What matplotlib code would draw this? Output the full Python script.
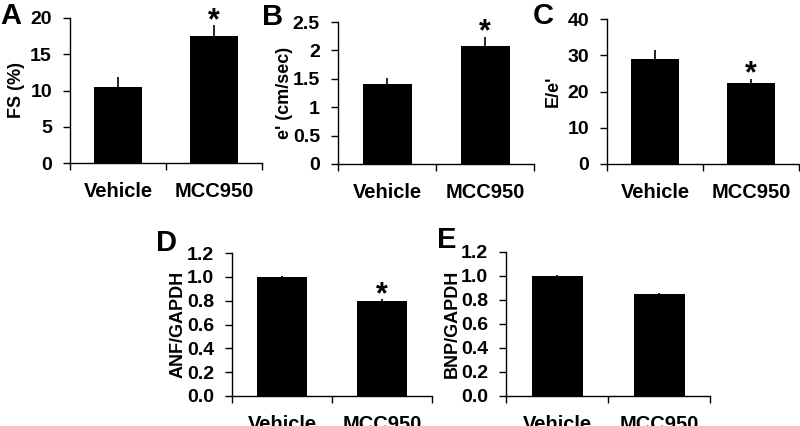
import matplotlib
matplotlib.use("Agg")
import matplotlib.pyplot as plt

plt.rcParams['font.family'] = ['Liberation Sans', 'DejaVu Sans']
plt.rcParams['font.weight'] = 'bold'

# data
groups = ["Vehicle", "MCC950"]

fs_mean = [10.5, 17.5]
fs_err = [1.4, 1.5]

e_mean = [1.40, 2.07]
e_err = [0.11, 0.17]

ee_mean = [29.0, 22.3]
ee_err = [2.4, 1.2]

anf_mean = [1.0, 0.80]
anf_err = [0.005, 0.01]

bnp_mean = [1.0, 0.85]
bnp_err = [0.005, 0.005]

# panel: letter, ylabel, mean, err, ylim top, ticks, tick labels, star, box (px), letter pos (px)
panels = [
    ("A", "FS (%)", fs_mean, fs_err, 20, [0, 5, 10, 15, 20],
     ["0", "5", "10", "15", "20"], [False, True], (70, 262, 18, 163), (0, 16)),
    ("B", "e' (cm/sec)", e_mean, e_err, 2.5, [0, 0.5, 1, 1.5, 2, 2.5],
     ["0", "0.5", "1", "1.5", "2", "2.5"], [False, True], (338, 534, 22, 164), (262, 17)),
    ("C", "E/e'", ee_mean, ee_err, 40, [0, 10, 20, 30, 40],
     ["0", "10", "20", "30", "40"], [False, True], (607, 799, 19, 164), (533, 16)),
    ("D", "ANF/GAPDH", anf_mean, anf_err, 1.2, [0, 0.2, 0.4, 0.6, 0.8, 1.0, 1.2],
     ["0.0", "0.2", "0.4", "0.6", "0.8", "1.0", "1.2"], [False, True], (232, 432, 253, 396), (156, 243)),
    ("E", "BNP/GAPDH", bnp_mean, bnp_err, 1.2, [0, 0.2, 0.4, 0.6, 0.8, 1.0, 1.2],
     ["0.0", "0.2", "0.4", "0.6", "0.8", "1.0", "1.2"], [False, False], (506, 710, 252, 396), (437, 240)),
]

W, H = 800, 426
fig = plt.figure(figsize=(8, 4.26), dpi=100)

for letter, ylab, mean, err, top, ticks, tlabels, stars, box, lpos in panels:
    x0, x1, yt, yb = box
    ax = fig.add_axes([x0 / W, (H - yb) / H, (x1 - x0) / W, (yb - yt) / H])
    xs = [0, 1]
    ax.bar(xs, mean, width=0.5, color="black", zorder=2)
    ax.errorbar(xs, mean, yerr=[[0, 0], err], fmt="none", ecolor="black",
                elinewidth=1.2, capsize=0, zorder=1)
    ax.set_xlim(-0.5, 1.5)
    ax.set_ylim(0, top)
    ax.set_yticks(ticks)
    ax.set_yticklabels(tlabels, fontsize=14, fontweight="bold")
    ax.set_xticks(xs)
    ax.set_xticklabels(groups, fontsize=14.5, fontweight="bold")
    ax.set_xticks([-0.5, 0.5, 1.5], minor=True)
    ax.tick_params(axis="x", which="major", length=0, pad=14)
    ax.tick_params(axis="x", which="minor", length=5, width=1)
    ax.tick_params(axis="y", length=5, width=1, pad=8)
    for s in ["top", "right"]:
        ax.spines[s].set_visible(False)
    for s in ["left", "bottom"]:
        ax.spines[s].set_linewidth(1)
    ax.set_ylabel(ylab, fontsize=13, fontweight="bold")
    ax.yaxis.set_label_coords(-45 / (x1 - x0), 0.5)
    for i in range(2):
        if stars[i]:
            ax.annotate("*", (xs[i], mean[i] + err[i]), xytext=(0, 3),
                        textcoords="offset points", ha="center", va="center",
                        fontsize=22, fontweight="bold")
    fig.text(lpos[0] / W, (H - lpos[1]) / H, letter, fontsize=21,
             fontweight="bold", ha="left", va="center")

fig.savefig("out.png", dpi=100)
